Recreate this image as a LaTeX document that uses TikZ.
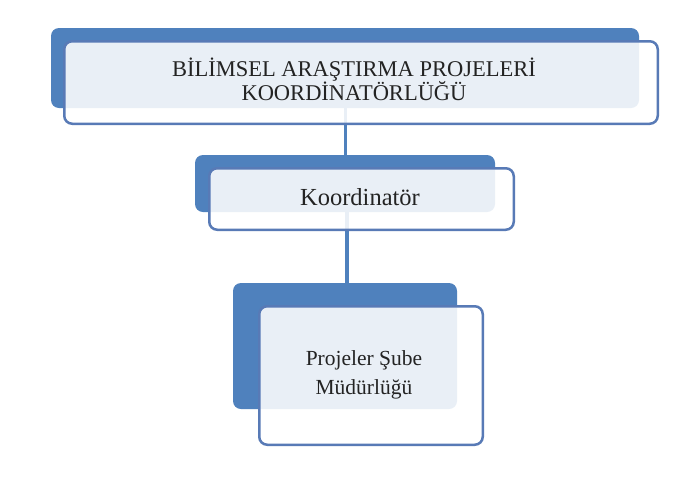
\documentclass[tikz,border=0pt]{standalone}
\usepackage{fontspec}
\setmainfont{Liberation Serif}
\definecolor{backblue}{RGB}{79,129,189}
\definecolor{frameblue}{RGB}{88,122,182}
\definecolor{txt}{RGB}{35,35,35}
\begin{document}
\begin{tikzpicture}[x=1pt,y=-1pt,
  backbox/.style={rectangle, rounded corners=8pt, fill=backblue, draw=none, inner sep=0pt},
  frontbox/.style={rectangle, rounded corners=8pt, fill=white, fill opacity=0.88, draw=frameblue, draw opacity=1, line width=2.5pt, inner sep=0pt},
  label/.style={text=txt, align=center, inner sep=0pt},
  link/.style={draw=backblue}]
\useasboundingbox[fill=white] (0,0) rectangle (698,488);
% back boxes
\node[backbox, minimum width=588pt, minimum height=80pt] (b1) at (345,68) {};
\node[backbox, minimum width=300pt, minimum height=57pt] (b2) at (345,183.5) {};
\node[backbox, minimum width=224pt, minimum height=126pt] (b3) at (345,346) {};
% connectors
\draw[link, line width=3pt] (b1.south) -- (b2.north);
\draw[link, line width=4pt] ([xshift=2pt]b2.south) -- ([xshift=2pt]b3.north);
% front boxes
\node[frontbox, minimum width=593.5pt, minimum height=82.5pt] (f1) at (361,82.5) {};
\node[frontbox, minimum width=304.5pt, minimum height=61.5pt] (f2) at (361.5,199) {};
\node[frontbox, minimum width=223.5pt, minimum height=138.5pt] (f3) at (371,375.5) {};
% labels
\node[label, anchor=base, font=\fontsize{22.5}{24}\selectfont] (t1) at (354,100) {BİLİMSEL ARAŞTIRMA PROJELERİ\\KOORDİNATÖRLÜĞÜ};
\node[label, anchor=base, font=\fontsize{24.5}{26}\selectfont] (t2) at (360,205) {Koordinatör};
\node[label, anchor=base, font=\fontsize{21.5}{29}\selectfont] (t3) at (364,394) {Projeler Şube\\Müdürlüğü};
\end{tikzpicture}
\end{document}
